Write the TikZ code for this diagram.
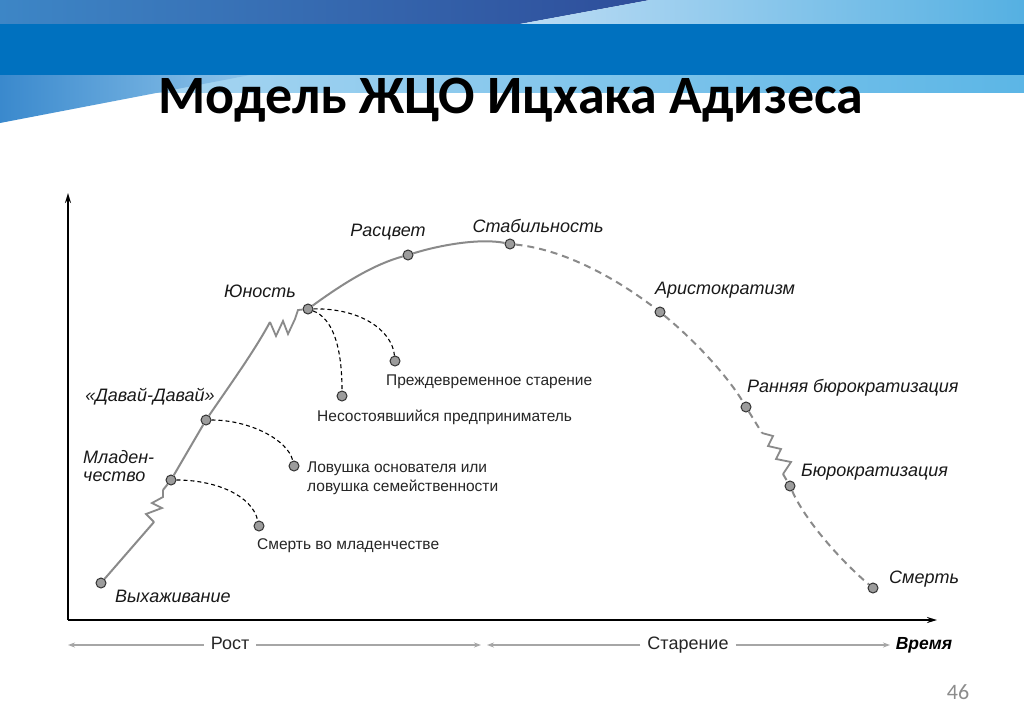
\documentclass[tikz,border=0pt]{standalone}
\usepackage{fontspec}
\setmainfont{Liberation Sans}
\newfontfamily\titlefont{Carlito}
\usetikzlibrary{arrows.meta}
\definecolor{bandblue}{HTML}{0071BF}
\definecolor{curvegrey}{HTML}{8A8A8A}
\definecolor{ptfill}{HTML}{9C9C9C}
\definecolor{topL}{HTML}{3D86C6}
\definecolor{topR}{HTML}{2E4D9A}
\definecolor{liteL}{HTML}{BCDCF4}
\definecolor{liteR}{HTML}{55B0E2}
\definecolor{bandL}{HTML}{B4DAF3}
\definecolor{bandR}{HTML}{5CB6E6}
\definecolor{wedgeL}{HTML}{3A89CD}
\definecolor{wedgeR}{HTML}{8EC4EA}
\begin{document}
\begin{tikzpicture}[x=1pt,y=-1pt,
  pnt/.style={circle, draw=black!80, fill=ptfill, line width=1pt, minimum size=10pt, inner sep=0pt},
  curve/.style={draw=curvegrey, line width=2pt, line join=round},
  dcurve/.style={curve, dash pattern=on 7pt off 5pt},
  zig/.style={draw=curvegrey, line width=1.8pt, line join=miter},
  branch/.style={draw=black, line width=1.1pt, dash pattern=on 4pt off 3pt},
  stage/.style={font=\fontsize{18}{18}\selectfont\itshape, text=black!90, inner sep=0pt},
  note/.style={font=\fontsize{15.5}{19}\selectfont, text=black!85, inner sep=0pt},
  axis/.style={draw=black, line width=2.2pt, -{Stealth[length=10pt,width=6pt]}},
  garrow/.style={draw=black!35, line width=1.6pt, -{Stealth[length=7pt,width=5pt]}},
  bottom/.style={font=\fontsize{18}{20}\selectfont, text=black!85, text height=13pt, text depth=4pt, inner xsep=7pt, inner ysep=0pt}
]
\useasboundingbox (0,0) rectangle (1024,725);
\fill[white] (0,0) rectangle (1024,725);
% ---- header ----
\shade[left color=topL, right color=topR] (0,0) -- (650,0) -- (520,24) -- (0,24) -- cycle;
\shade[left color=liteL, right color=liteR] (650,0) -- (1024,0) -- (1024,24) -- (520,24) -- cycle;
\fill[bandblue] (0,24) rectangle (1024,75);
\shade[left color=bandL, right color=bandR] (0,75) rectangle (1024,92);
\shade[left color=wedgeL, right color=wedgeR] (0,75) -- (250,75) -- (0,123) -- cycle;
\node[font=\titlefont\bfseries\fontsize{54}{60}\selectfont, anchor=base, inner sep=0pt] (title) at (511,113) {Модель ЖЦО Ицхака Адизеса};
\node[font=\titlefont\fontsize{22}{24}\selectfont, text=black!45, inner sep=0pt] (pnum) at (958,692) {46};
% ---- axes ----
\coordinate (O) at (68,620);
\coordinate (ytop) at (68,193);
\coordinate (xend) at (937,620);
\draw[axis] (O) -- (ytop);
\draw[axis] (O) -- (xend);
% ---- stage points ----
\node[pnt] (vyh) at (101,583) {};
\node[pnt] (mlad) at (171,480) {};
\node[pnt] (dav) at (206,420) {};
\node[pnt] (yun) at (308,309) {};
\node[pnt] (ras) at (408,255) {};
\node[pnt] (stab) at (510,244) {};
\node[pnt] (ari) at (660,312) {};
\node[pnt] (rb) at (746,407) {};
\node[pnt] (bur) at (790,486) {};
\node[pnt] (sm) at (873,588) {};
% ---- trap points ----
\node[pnt] (smp) at (259,526) {};
\node[pnt] (lov) at (294,466) {};
\node[pnt] (nes) at (342,396) {};
\node[pnt] (pre) at (395,361) {};
% ---- curve ----
\draw[curve] (vyh) -- (154,522);
\draw[zig] (154,522) -- (146,514) -- (162,508) -- (152,503) -- (163,497) -- (163,490);
\draw[curve] (163,490) -- (mlad);
\draw[curve] (mlad) -- (dav);
\draw[curve] (dav) .. controls (232,382) and (255,350) .. (270,322);
\draw[zig] (270,322) -- (276,336) -- (283,321) -- (288,334) -- (295,319) -- (298,310) -- (yun);
\draw[curve] (yun) .. controls (345,282) and (375,264) .. (ras);
\draw[curve] (ras) .. controls (440,245) and (480,238) .. (stab);
\draw[dcurve] (stab) .. controls (570,250) and (625,285) .. (ari);
\draw[dcurve] (ari) .. controls (700,345) and (730,380) .. (rb);
\draw[dcurve] (rb) -- (762,433);
\draw[zig] (762,433) -- (773,436) -- (768,446) -- (781,449) -- (776,459) -- (791,462) -- (783,474);
\draw[dcurve] (783,474) -- (bur);
\draw[dcurve] (bur) .. controls (805,520) and (840,560) .. (sm);
% ---- branches ----
\draw[branch] (mlad) .. controls (215,480) and (252,495) .. (smp);
\draw[branch] (dav) .. controls (250,420) and (288,440) .. (lov);
\draw[branch] (yun) .. controls (332,318) and (342,345) .. (nes);
\draw[branch] (yun) .. controls (360,308) and (392,330) .. (pre);
% ---- stage labels ----
\node[stage, anchor=west] (lvyh) at (115,596) {Выхаживание};
\node[stage, anchor=north west, align=left] (lmlad) at (83,450) {Младен-\\чество};
\node[stage] (ldav) at (150,397) {«Давай-Давай»};
\node[stage] (lyun) at (260,291) {Юность};
\node[stage] (lras) at (388,232) {Расцвет};
\node[stage] (lstab) at (538,226) {Стабильность};
\node[stage, anchor=west] (lari) at (655,290) {Аристократизм};
\node[stage, anchor=west] (lrb) at (747,388) {Ранняя бюрократизация};
\node[stage, anchor=west] (lbur) at (801,472) {Бюрократизация};
\node[stage, anchor=west] (lsm) at (889,579) {Смерть};
% ---- trap labels ----
\node[note, anchor=west] (lpre) at (386,382) {Преждевременное старение};
\node[note, anchor=west] (lnes) at (317,417) {Несостоявшийся предприниматель};
\node[note, anchor=north west, align=left] (llov) at (307,462) {Ловушка основателя или\\ловушка семейственности};
\node[note, anchor=west] (lsmp) at (257,546) {Смерть во младенчестве};
% ---- bottom ----
\node[bottom] (rost) at (230,645) {Рост};
\node[bottom] (star) at (688,645) {Старение};
\node[bottom, font=\fontsize{17.5}{20}\selectfont\bfseries\itshape, text=black, inner xsep=2pt] (vrem) at (924,645) {Время};
\coordinate (r0) at (68,645);
\coordinate (r1) at (481,645);
\coordinate (s0) at (487,645);
\coordinate (s1) at (890,645);
\draw[garrow] (rost) -- (r0);
\draw[garrow] (rost) -- (r1);
\draw[garrow] (star) -- (s0);
\draw[garrow] (star) -- (s1);
\end{tikzpicture}
\end{document}
